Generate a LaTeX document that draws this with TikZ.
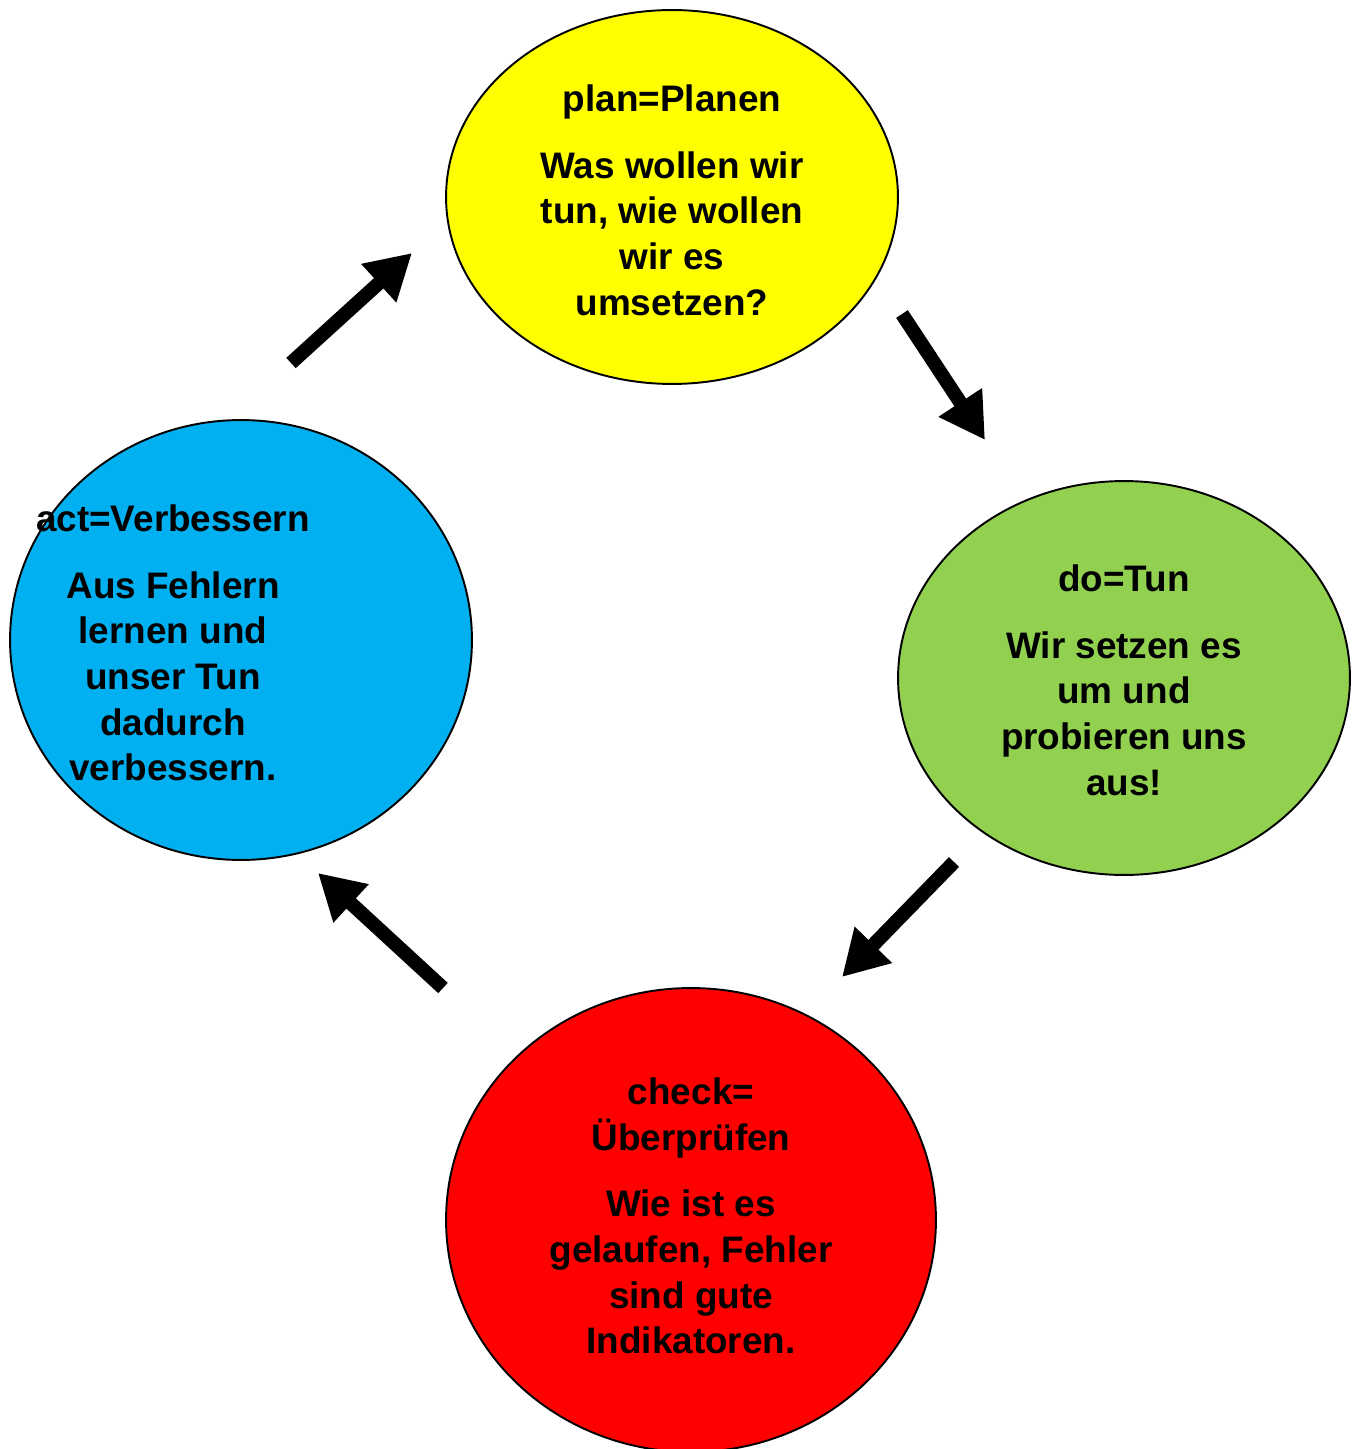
\documentclass[tikz,border=0pt]{standalone}
\usepackage{fontspec}
\setmainfont{Liberation Sans}
\usepackage{tikz}
\usetikzlibrary{positioning,arrows.meta,shapes.geometric}

\definecolor{plangelb}{HTML}{FFFF00}
\definecolor{dogruen}{HTML}{92D050}
\definecolor{checkrot}{HTML}{FF0000}
\definecolor{actblau}{HTML}{00B0F0}

\begin{document}
\begin{tikzpicture}[x=0.02cm, y=-0.02cm,
  phase/.style={ellipse, draw, line width=1.1pt, inner sep=0pt},
  phasetext/.style={align=center, font=\bfseries\fontsize{21}{26}\selectfont},
  pfeil/.style={line width=0.28cm, -{Triangle[length=0.9cm, width=0.98cm]}}]
  \useasboundingbox (0,0) rectangle (1358,1449);

  % Plan (oben)
  \node[phase, fill=plangelb, minimum width=9.04cm, minimum height=7.48cm] (plan) at (672,197) {};
  \node[phasetext] (plantext) at (672,200) {plan=Planen\\[12pt]Was wollen wir\\tun, wie wollen\\wir es\\umsetzen?};

  % Do (rechts)
  \node[phase, fill=dogruen, minimum width=9.04cm, minimum height=7.88cm] (do) at (1124,678) {};
  \node[phasetext] (dotext) at (1124,680) {do=Tun\\[12pt]Wir setzen es\\um und\\probieren uns\\aus!};

  % Check (unten)
  \node[phase, fill=checkrot, minimum width=9.8cm, minimum height=9.28cm] (check) at (691,1220) {};
  \node[phasetext] (checktext) at (691,1216) {check=\\Überprüfen\\[12pt]Wie ist es\\gelaufen, Fehler\\sind gute\\Indikatoren.};

  % Act (links)
  \node[phase, fill=actblau, minimum width=9.24cm, minimum height=8.8cm] (act) at (241,640) {};
  \node[phasetext] (acttext) at (173,643) {act=Verbessern\\[12pt]Aus Fehlern\\lernen und\\unser Tun\\dadurch\\verbessern.};

  % Pfeile zwischen den Phasen
  \coordinate (a1) at (291,363);  \coordinate (b1) at (412,253);
  \coordinate (a2) at (902,314);  \coordinate (b2) at (985,440);
  \coordinate (a3) at (954,862);  \coordinate (b3) at (842,977);
  \coordinate (a4) at (443,988);  \coordinate (b4) at (318,873);
  \foreach \i in {1,...,4} {
    \draw[pfeil] (a\i) -- (b\i);
  }
\end{tikzpicture}
\end{document}
